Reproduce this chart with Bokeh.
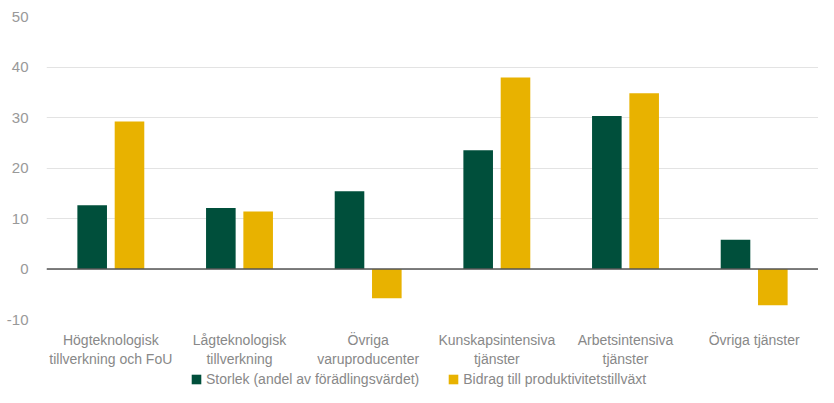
from bokeh.plotting import figure
from bokeh.layouts import column
from bokeh.models import ColumnDataSource, FixedTicker, Legend, LegendItem, Span
from bokeh.transform import dodge
from bokeh.embed import file_html
from bokeh.resources import INLINE

categories = ["Högteknologisk\ntillverkning och FoU", "Lågteknologisk\ntillverkning",
              "Övriga\nvaruproducenter", "Kunskapsintensiva\ntjänster",
              "Arbetsintensiva\ntjänster", "Övriga tjänster"]
storlek = [12.6, 12.1, 15.4, 23.5, 30.3, 5.8]
bidrag = [29.2, 11.4, -5.8, 37.9, 34.8, -7.2]
yticks = [-10, 0, 10, 20, 30, 40, 50]
series_names = ["Storlek (andel av förädlingsvärdet)", "Bidrag till produktivitetstillväxt"]

GREEN = "#004f3b"
YELLOW = "#e8b200"
FONT = "Liberation Sans"

src = ColumnDataSource(dict(cat=categories, s=storlek, b=bidrag))

p = figure(x_range=categories, y_range=(-10, 50), width=818, height=369,
           output_backend="svg", toolbar_location=None,
           min_border_left=46, min_border_right=0, min_border_top=16, min_border_bottom=0)
p.outline_line_color = None

p.vbar(x=dodge("cat", -0.145, range=p.x_range), top="s", width=0.23, source=src,
       fill_color=GREEN, line_color=None)
p.vbar(x=dodge("cat", 0.145, range=p.x_range), top="b", width=0.23, source=src,
       fill_color=YELLOW, line_color=None)

p.add_layout(Span(location=0, dimension="width", line_color="#555555", line_width=1.5))

p.yaxis.ticker = FixedTicker(ticks=yticks)
p.yaxis.major_label_overrides = {t: str(t) for t in yticks}
p.yaxis.axis_line_color = None
p.yaxis.major_tick_line_color = None
p.yaxis.minor_tick_line_color = None
p.yaxis.major_label_text_color = "#999999"
p.yaxis.major_label_text_font = FONT
p.yaxis.major_label_text_font_size = "15px"
p.yaxis.major_label_standoff = 12

p.xaxis.axis_line_color = None
p.xaxis.major_tick_line_color = None
p.xaxis.major_label_text_color = "#888888"
p.xaxis.major_label_text_font = FONT
p.xaxis.major_label_text_font_size = "14px"
p.xaxis.major_label_standoff = 6

p.xgrid.grid_line_color = None
p.ygrid.grid_line_color = "#e3e3e3"
p.ygrid.grid_line_width = 1

# legend strip (zero-height swatch renderers, clipped out of view)
lf = figure(width=818, height=18, x_range=categories, y_range=(100, 101),
            output_backend="svg", toolbar_location=None, min_border=0)
lf.axis.visible = False
lf.grid.visible = False
lf.outline_line_color = None
lr1 = lf.vbar(x="cat", top="s", bottom="s", width=0.23, source=src, fill_color=GREEN, line_color=None)
lr2 = lf.vbar(x="cat", top="b", bottom="b", width=0.23, source=src, fill_color=YELLOW, line_color=None)
legend = Legend(items=[LegendItem(label=series_names[0], renderers=[lr1]),
                       LegendItem(label=series_names[1], renderers=[lr2])],
                orientation="horizontal", location=(144, 0),
                label_text_font=FONT, label_text_font_size="14px", label_text_color="#888888",
                label_height=14, glyph_width=12, glyph_height=12, spacing=28, label_standoff=4,
                border_line_color=None, background_fill_alpha=0, padding=0, margin=0)
lf.add_layout(legend, "center")

layout = column(p, lf, spacing=0)
open("out.html", "w").write(file_html(layout, INLINE))
